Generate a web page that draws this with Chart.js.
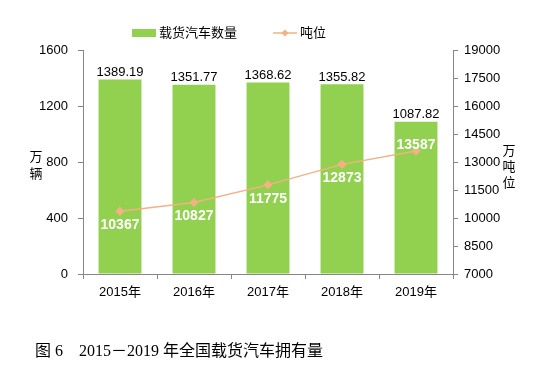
<!DOCTYPE html>
<html><head><meta charset="utf-8">
<script src="https://cdn.jsdelivr.net/npm/chart.js@4"></script>
<style>html,body{margin:0;padding:0;background:#fff}#w{width:550px;height:370px}</style>
</head><body><div id="w"><canvas id="c" width="550" height="370"></canvas></div>
<script>
const categories = ['2015年','2016年','2017年','2018年','2019年'];
const vehicles = [1389.19, 1351.77, 1368.62, 1355.82, 1087.82];
const tonnage = [10367, 10827, 11775, 12873, 13587];
const leftTicks = [0, 400, 800, 1200, 1600];
const rightTicks = [7000, 8500, 10000, 11500, 13000, 14500, 16000, 17500, 19000];
const seriesNames = ['载货汽车数量', '吨位'];
const caption = '图 6\u30002015－2019 年全国载货汽车拥有量';

const GREEN = '#92D050', ORANGE = '#F4B183', AXIS = '#868686';
const SANS = '"Liberation Sans", Arial, "Noto Sans CJK SC", sans-serif';

const overlay = {
  id: 'overlay',
  afterDatasetsDraw(chart) {
    const ctx = chart.ctx;
    ctx.save();
    const mb = chart.getDatasetMeta(0);
    ctx.font = '13px ' + SANS;
    ctx.fillStyle = '#000';
    ctx.textAlign = 'center';
    ctx.textBaseline = 'bottom';
    mb.data.forEach((el, i) => {
      ctx.fillText(vehicles[i].toFixed(2), el.x, el.y - 0.5);
    });
    const ml = chart.getDatasetMeta(1);
    ctx.font = 'bold 14px ' + SANS;
    ctx.fillStyle = '#fff';
    ctx.textBaseline = 'middle';
    ml.data.forEach((el, i) => {
      const dy = (i === tonnage.length - 1) ? -6 : 14;
      ctx.fillText(String(tonnage[i]), el.x, el.y + dy);
    });
    ctx.restore();
  },
  afterDraw(chart) {
    const ctx = chart.ctx;
    ctx.save();
    ctx.font = '13px ' + SANS;
    ctx.fillStyle = GREEN;
    ctx.fillRect(132, 29, 24, 8);
    ctx.fillStyle = '#000';
    ctx.textAlign = 'left';
    ctx.textBaseline = 'middle';
    ctx.fillText(seriesNames[0], 159, 33);
    ctx.strokeStyle = ORANGE;
    ctx.lineWidth = 1.5;
    ctx.beginPath(); ctx.moveTo(273, 33); ctx.lineTo(297, 33); ctx.stroke();
    ctx.fillStyle = ORANGE;
    ctx.beginPath(); ctx.moveTo(285, 29.5); ctx.lineTo(288.5, 33); ctx.lineTo(285, 36.5); ctx.lineTo(281.5, 33); ctx.closePath(); ctx.fill();
    ctx.fillStyle = '#000';
    ctx.fillText(seriesNames[1], 300, 33);
    ctx.textAlign = 'center';
    ctx.font = '13px "Noto Sans CJK SC", sans-serif';
    ['万','辆'].forEach((t, i) => ctx.fillText(t, 36, 156 + i * 17));
    ['万','吨','位'].forEach((t, i) => ctx.fillText(t, 509, 150 + i * 16));
    ctx.font = '16px "Liberation Serif", "Noto Sans CJK SC", serif';
    ctx.textAlign = 'left';
    ctx.fillText(caption, 35, 352);
    ctx.restore();
  }
};

new Chart(document.getElementById('c'), {
  data: {
    labels: categories,
    datasets: [
      { type: 'bar', label: seriesNames[0], data: vehicles, backgroundColor: GREEN, yAxisID: 'y', order: 1,
        barPercentage: 0.58, categoryPercentage: 1.0 },
      { type: 'line', label: seriesNames[1], data: tonnage, yAxisID: 'y1', order: 0,
        borderColor: ORANGE, borderWidth: 1.5, backgroundColor: ORANGE, tension: 0,
        pointStyle: 'rectRot', pointRadius: 3.5, pointBackgroundColor: ORANGE, pointBorderColor: ORANGE }
    ]
  },
  options: {
    responsive: false,
    animation: false,
    events: [],
    layout: { padding: { top: 50, left: 0, right: 0, bottom: 0 } },
    plugins: { legend: { display: false }, tooltip: { enabled: false } },
    scales: {
      x: {
        offset: true,
        grid: { offset: true, drawOnChartArea: false, color: AXIS, tickLength: 5 },
        border: { color: AXIS },
        ticks: { color: '#000', font: { size: 13, family: SANS }, padding: 6 },
        afterFit(s) { s.height = 96; }
      },
      y: {
        position: 'left', min: 0, max: 1600,
        afterBuildTicks(s) { s.ticks = leftTicks.map(v => ({ value: v })); },
        grid: { drawOnChartArea: false, color: AXIS, tickLength: 5 },
        border: { color: AXIS },
        ticks: { color: '#000', font: { size: 13, family: SANS }, padding: 10, callback: v => String(v) },
        afterFit(s) { s.width = 83; }
      },
      y1: {
        position: 'right', min: 7000, max: 19000,
        afterBuildTicks(s) { s.ticks = rightTicks.map(v => ({ value: v })); },
        grid: { drawOnChartArea: false, color: AXIS, tickLength: 5 },
        border: { color: AXIS },
        ticks: { color: '#000', font: { size: 13, family: SANS }, padding: 6, callback: v => String(v) },
        afterFit(s) { s.width = 97; }
      }
    }
  },
  plugins: [overlay]
});
</script></body></html>
